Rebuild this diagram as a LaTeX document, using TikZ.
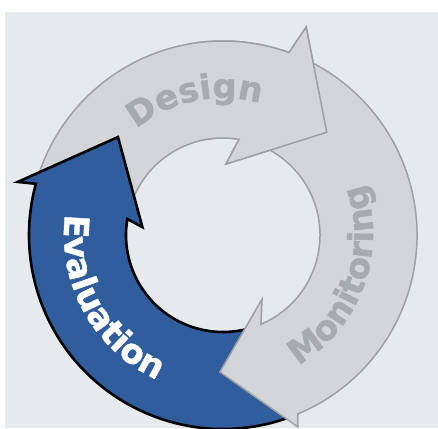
\documentclass[tikz,border=0pt]{standalone}
\usepackage{fontspec}
\setmainfont{DejaVu Sans}
\newfontfamily\heavyfont[BoldFeatures={FakeBold=1.3}]{DejaVu Sans}
\usetikzlibrary{decorations.text}
\definecolor{bgc}{HTML}{E7EAED}
\definecolor{grayfill}{HTML}{D3D5D8}
\definecolor{grayline}{HTML}{9DA0A3}
\definecolor{graytext}{HTML}{A8ABAE}
\definecolor{bluefill}{HTML}{2F5D9E}
\def\designpath{(163:194pt) arc[start angle=163, end angle=70.1, radius=194pt] -- (68.2:224pt) -- (44.7:146pt) -- (87.6:71pt) -- (80.5:97pt) arc[start angle=80.5, end angle=163, radius=97pt] -- cycle}
\def\monitorpath{(65:194pt) arc[start angle=65, end angle=-67.3, radius=194pt] -- (-68.7:206pt) -- (-91.3:137pt) -- (-58.6:75pt) -- (-67:97pt) arc[start angle=-67, end angle=65, radius=97pt] -- cycle}
\def\evalpath{(-70:194pt) arc[start angle=-70, end angle=-195.3, radius=194pt] -- (-194.5:212pt) -- (-223:143.6pt) -- (-185.6:81pt) -- (-189.5:97pt) arc[start angle=-189.5, end angle=-70, radius=97pt] -- cycle}
\begin{document}
\begin{tikzpicture}[x=1pt,y=1pt,
  grayarrow/.style={fill=grayfill, draw=grayline, line width=1.5pt, line join=miter},
  bluearrow/.style={fill=bluefill, draw=black, line width=2.6pt, line join=miter},
  arctext/.style={decorate, decoration={text along path, text align=center, text={#1}}}]
\useasboundingbox (-223,-193) rectangle (215,235);
\fill[white] (-223,-193) rectangle (215,235);
\fill[bgc] (-218,-193) rectangle (215,223);
% arrows
\draw[grayarrow] \designpath;
\draw[bluearrow] \evalpath;
\draw[grayarrow] \monitorpath;
\begin{scope}
  \clip (0,0) -- (25:300pt) arc[start angle=25, end angle=100, radius=300pt] -- cycle;
  \draw[grayarrow] \designpath;
\end{scope}
% labels
\path[arctext={|\fontsize{34}{40}\selectfont\heavyfont\bfseries\color{graytext}|Design}]
  (141.7:137pt) arc[start angle=141.7, end angle=61.7, radius=137pt];
\path[arctext={|\fontsize{34}{40}\selectfont\heavyfont\bfseries\color{white}|Evaluation}]
  (169:159pt) arc[start angle=169, end angle=249, radius=159pt];
\path[arctext={|\fontsize{34}{40}\selectfont\heavyfont\bfseries\color{graytext}|Monitoring}]
  (-65:150pt) arc[start angle=-65, end angle=25, radius=150pt];
\end{tikzpicture}
\end{document}
